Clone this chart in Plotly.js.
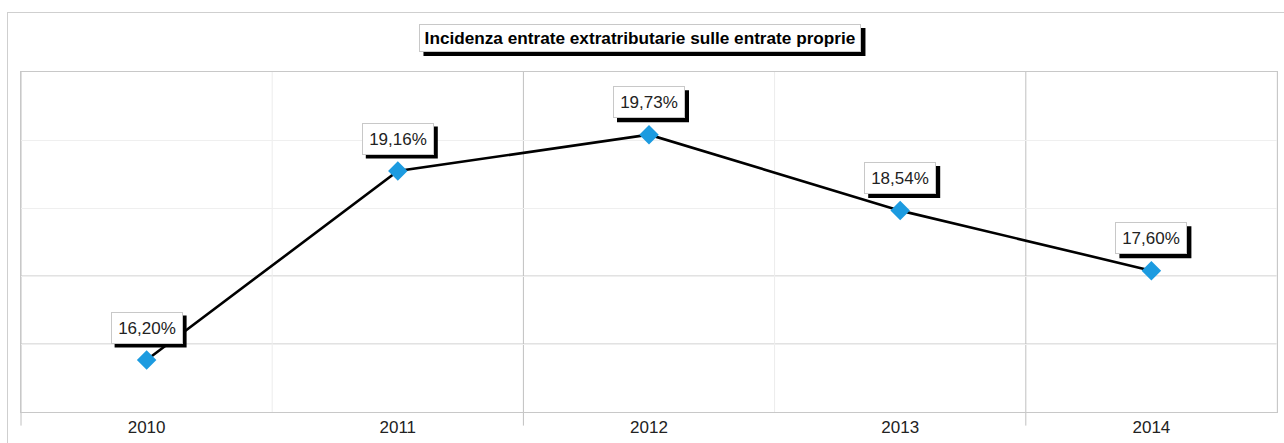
<!DOCTYPE html>
<html>
<head>
<meta charset="utf-8">
<script src="https://cdn.plot.ly/plotly-3.0.1.min.js"></script>
<style>
  html, body { margin: 0; padding: 0; background: #fff; overflow: hidden; }
  #chart { width: 1284px; height: 443px; position: absolute; left: 0; top: 0; }
  #frame { position: absolute; left: 7px; top: 12px; width: 1300px; height: 460px;
           border: 1px solid #cfcfcf; pointer-events: none; }
</style>
</head>
<body>
<div id="chart"></div>
<div id="frame"></div>
<script>
const chartTitle = 'Incidenza entrate extratributarie sulle entrate proprie';
const years = ['2010', '2011', '2012', '2013', '2014'];
const values = [16.20, 19.16, 19.73, 18.54, 17.60];
const valueLabels = ['16,20%', '19,16%', '19,73%', '18,54%', '17,60%'];

const yMin = 15.386, yMax = 20.711;
const yStep = (yMax - yMin) / 5;

const trace = {
  type: 'scatter',
  mode: 'lines+markers',
  x: years,
  y: values,
  line: { color: '#000000', width: 2.6 },
  marker: { symbol: 'diamond', size: 15, color: '#1c9be0', line: { width: 0 } },
  hoverinfo: 'skip',
  showlegend: false
};

const font = 'Liberation Sans, Arial, sans-serif';
const annotations = [];
const shapes = [];
const SH = 4; // shadow offset in px

// title box
const tW = 436, tH = 20, tPad = 2;
const tBoxW = tW + 2 * tPad + 2, tBoxH = tH + 2 * tPad + 4;
const tX = 0.4932, tY = 1.1;
annotations.push({
  xref: 'paper', yref: 'paper', x: tX, y: tY, xanchor: 'center', yanchor: 'middle',
  text: chartTitle, showarrow: false, width: tW, height: tH + 2, borderpad: tPad, borderwidth: 1,
  bgcolor: '#fff', bordercolor: '#c8c8c8',
  font: { family: font, size: 17.2, color: '#000', weight: 'bold' }
});
shapes.push({
  type: 'rect', xref: 'paper', yref: 'paper', xsizemode: 'pixel', ysizemode: 'pixel',
  xanchor: tX, yanchor: tY,
  x0: -tBoxW / 2 + SH, x1: tBoxW / 2 + SH, y0: -tBoxH / 2 - SH, y1: tBoxH / 2 - SH,
  fillcolor: '#000', line: { width: 0 }, layer: 'above'
});

// value labels
const lW = 60, lH = 20, lPad = 5, lUp = 32.5;
const lBoxW = lW + 2 * lPad + 2, lBoxH = lH + 2 * lPad + 2;
years.forEach((yr, i) => {
  shapes.push({
    type: 'rect', xref: 'x', yref: 'y', xsizemode: 'pixel', ysizemode: 'pixel',
    xanchor: i, yanchor: values[i],
    x0: -lBoxW / 2 + SH, x1: lBoxW / 2 + SH, y0: lUp - lBoxH / 2 - SH, y1: lUp + lBoxH / 2 - SH,
    fillcolor: '#000', line: { width: 0 }, layer: 'above'
  });
  annotations.push({
    x: i, y: values[i], xref: 'x', yref: 'y', text: valueLabels[i], showarrow: false,
    xanchor: 'center', yanchor: 'middle', yshift: lUp, width: lW, height: lH,
    borderpad: lPad, borderwidth: 1, bgcolor: '#fff', bordercolor: '#c8c8c8',
    font: { family: font, size: 17, color: '#222' }
  });
});

// darker horizontal grid lines, as in the reference
[1, 2].forEach(k => {
  const v = yMin + k * yStep;
  shapes.push({ type: 'line', xref: 'paper', yref: 'y', x0: 0, x1: 1, y0: v, y1: v,
    line: { color: '#c4c4c4', width: 1 }, layer: 'below' });
});
// vertical grid lines at category boundaries (darker ones extend below the axis)
for (let k = 0; k <= years.length; k++) {
  const px = k / years.length;
  const dark = (k % 2 === 0);
  shapes.push({ type: 'line', xref: 'paper', yref: 'paper', x0: px, x1: px,
    y0: dark ? -0.04 : 0, y1: 1,
    line: { color: dark ? '#c0c0c0' : '#ececec', width: 1 }, layer: 'below' });
}

const layout = {
  width: 1284, height: 443,
  margin: { l: 21, r: 7, t: 72, b: 31, pad: 0 },
  paper_bgcolor: '#ffffff', plot_bgcolor: 'rgba(0,0,0,0)',
  font: { family: font, color: '#222' },
  xaxis: {
    type: 'category', range: [-0.5, years.length - 0.5], autorange: false,
    tickson: 'boundaries', ticks: 'outside', ticklen: 13, tickcolor: 'rgba(0,0,0,0)',
    showgrid: false, showline: true, linecolor: '#c8c8c8', mirror: true,
    tickfont: { family: font, size: 17, color: '#222' }, ticklabelstandoff: 0, tickangle: 0,
    fixedrange: true, zeroline: false
  },
  yaxis: {
    range: [yMin, yMax], autorange: false, tick0: yMin, dtick: yStep, showticklabels: false, ticks: '',
    showgrid: true, gridcolor: '#efefef', showline: true, linecolor: '#c8c8c8', mirror: true,
    zeroline: false, fixedrange: true
  },
  annotations: annotations,
  shapes: shapes
};

Plotly.newPlot('chart', [trace], layout, { displayModeBar: false, staticPlot: true });
</script>
</body>
</html>
